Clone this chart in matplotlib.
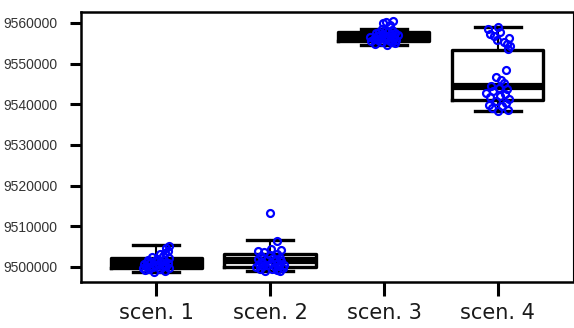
import matplotlib
matplotlib.use("Agg")
import matplotlib.pyplot as plt

categories = ["scen. 1", "scen. 2", "scen. 3", "scen. 4"]

# box statistics
whislo = [9498800, 9499000, 9554500, 9538300]
q1s    = [9499800, 9500100, 9555600, 9541000]
meds   = [9501000, 9501700, 9556700, 9544400]
q3s    = [9502300, 9503100, 9557800, 9553400]
whishi = [9505400, 9506600, 9558500, 9558900]

# individual runs (points)
s1_vals = [9498700, 9499000, 9499200, 9499400, 9499500, 9499700, 9499800, 9500000,
           9500100, 9500200, 9500300, 9500500, 9500600, 9500700, 9500800, 9500900,
           9501000, 9501100, 9501300, 9501400, 9501600, 9501800, 9502000, 9502200,
           9502500, 9502800, 9503100, 9503500, 9504000, 9504600, 9505200]
s1_jit = [-0.02, 0.08, -0.10, 0.03, -0.06, 0.11, -0.12, 0.05, -0.03, 0.09, -0.09, 0.00,
          0.06, -0.11, 0.02, -0.05, 0.10, -0.08, 0.04, -0.01, 0.07, -0.07, 0.01, 0.11,
          -0.04, 0.06, 0.03, 0.08, 0.10, 0.09, 0.11]

s2_vals = [9498900, 9499100, 9499300, 9499500, 9499600, 9499800, 9499900, 9500000,
           9500200, 9500300, 9500400, 9500600, 9500700, 9500900, 9501000, 9501200,
           9501400, 9501600, 9501700, 9501900, 9502100, 9502300, 9502600, 9502900,
           9503200, 9503600, 9504000, 9504200, 9504300, 9506300, 9513200]
s2_jit = [0.09, -0.04, 0.06, -0.09, 0.02, 0.11, -0.12, 0.04, -0.06, 0.08, -0.02, 0.12,
          -0.10, 0.01, 0.07, -0.07, 0.10, -0.03, 0.05, -0.11, 0.03, 0.09, -0.08, 0.00,
          0.06, -0.05, -0.11, 0.10, 0.01, 0.06, 0.00]

s3_vals = [9554700, 9554900, 9555100, 9555200, 9555400, 9555500, 9555600, 9555800,
           9555900, 9556000, 9556100, 9556300, 9556400, 9556500, 9556600, 9556700,
           9556800, 9556900, 9557000, 9557200, 9557300, 9557500, 9557600, 9557800,
           9558000, 9558200, 9558400, 9559500, 9559900, 9560300, 9560500]
s3_jit = [0.03, -0.08, 0.10, -0.02, 0.07, -0.11, 0.05, -0.05, 0.11, 0.00, -0.09, 0.08,
          -0.03, 0.04, -0.12, 0.09, -0.06, 0.02, 0.12, -0.01, 0.06, -0.07, 0.10, -0.04,
          0.01, 0.07, -0.02, 0.05, -0.01, 0.02, 0.08]

s4_vals = [9538400, 9538700, 9539000, 9539500, 9539900, 9540400, 9540800, 9541300,
           9541700, 9542100, 9542500, 9542900, 9543300, 9543700, 9544100, 9544500,
           9545200, 9545900, 9546800, 9548500, 9553700, 9554400, 9554900, 9555400,
           9555900, 9556400, 9556900, 9557400, 9557900, 9558400, 9559100]
s4_jit = [0.00, 0.09, -0.05, 0.04, -0.08, 0.07, -0.02, 0.10, -0.07, 0.02, 0.06, -0.10,
          -0.04, 0.08, 0.01, -0.06, 0.05, 0.03, -0.02, 0.07, 0.09, 0.11, 0.08, 0.05,
          -0.01, 0.10, -0.03, -0.07, 0.02, -0.09, 0.00]

points = [s1_vals, s2_vals, s3_vals, s4_vals]
jitters = [s1_jit, s2_jit, s3_jit, s4_jit]

fig = plt.figure(figsize=(5.74, 3.28), dpi=100)
ax = fig.add_axes([81 / 574, 46 / 328, 492 / 574, 270 / 328])

stats = []
for i, lab in enumerate(categories):
    stats.append(dict(label=lab, whislo=whislo[i], q1=q1s[i], med=meds[i],
                      q3=q3s[i], whishi=whishi[i], fliers=[]))

positions = list(range(1, len(categories) + 1))
ax.bxp(stats, positions=positions, widths=0.8, capwidths=0.4, showfliers=False,
       boxprops=dict(color="black", linewidth=2.4),
       medianprops=dict(color="black", linewidth=5.2, solid_capstyle="butt"),
       whiskerprops=dict(color="black", linewidth=1.5),
       capprops=dict(color="black", linewidth=2.4))

for pos, vals, jit in zip(positions, points, jitters):
    xs = [pos + j for j in jit]
    ax.plot(xs, vals, linestyle="none", marker="o", markersize=5,
            markerfacecolor="none", markeredgecolor="#0000ff",
            markeredgewidth=1.6, zorder=5)

ax.set_xlim(0.34, 4.66)
ax.set_ylim(9496300, 9562700)

yt = [9500000, 9510000, 9520000, 9530000, 9540000, 9550000, 9560000]
ax.set_yticks(yt)
ax.set_yticklabels([str(v) for v in yt], fontsize=10, color="#333333",
                   family="Liberation Sans")
ax.set_xticks(positions)
ax.set_xticklabels(categories, fontsize=15, color="#1a1a1a")

ax.tick_params(axis="y", length=8, width=2.2, pad=9)
ax.tick_params(axis="x", length=10, width=2.2, pad=5)

for side in ["left", "bottom", "top"]:
    ax.spines[side].set_linewidth(1.8)
ax.spines["right"].set_linewidth(0.8)

fig.savefig("out.png", dpi=100)
